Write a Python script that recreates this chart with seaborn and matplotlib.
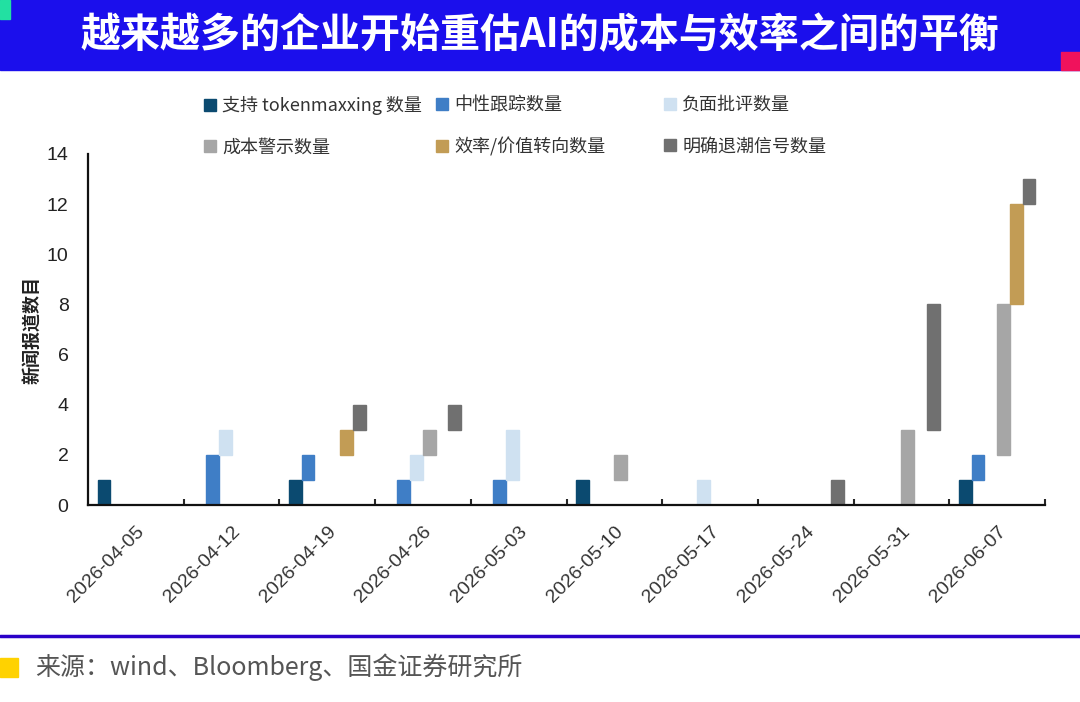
import numpy as np
import pandas as pd
import seaborn as sns
import matplotlib.pyplot as plt
from matplotlib.patches import Patch, Rectangle
from matplotlib.lines import Line2D

# 数据
dates = ['2026-04-05', '2026-04-12', '2026-04-19', '2026-04-26', '2026-05-03',
         '2026-05-10', '2026-05-17', '2026-05-24', '2026-05-31', '2026-06-07']
series = ['支持 tokenmaxxing 数量', '中性跟踪数量', '负面批评数量',
          '成本警示数量', '效率/价值转向数量', '明确退潮信号数量']
support = [1, 0, 1, 0, 0, 1, 0, 0, 0, 1]
neutral = [0, 2, 1, 1, 1, 0, 0, 0, 0, 1]
negative = [0, 1, 0, 1, 2, 0, 1, 0, 0, 0]
cost = [0, 0, 0, 1, 0, 1, 0, 0, 3, 6]
efficiency = [0, 0, 1, 0, 0, 0, 0, 0, 0, 4]
retreat = [0, 0, 1, 1, 0, 0, 0, 1, 5, 1]
colors = ['#0b4a70', '#3f7ec6', '#cfe1f1', '#a6a6a6', '#c29c55', '#707070']

values = np.array([support, neutral, negative, cost, efficiency, retreat])
bottoms = np.vstack([np.zeros(len(dates)), np.cumsum(values, axis=0)[:-1]])

rows = []
for name, vals in zip(series, values):
    for d, v in zip(dates, vals):
        rows.append({'date': d, 'series': name, 'count': v})
df = pd.DataFrame(rows)

sns.set_style('white')
plt.rcParams['font.family'] = ['Noto Sans CJK SC', 'DejaVu Sans']

fig = plt.figure(figsize=(10.8, 7.02), dpi=100)
W, H = 1080, 702

# 标题栏
fig.patches.append(Rectangle((0, 1 - 70 / H), 1, 70 / H, transform=fig.transFigure,
                             color='#1b0fec', zorder=0))
fig.patches.append(Rectangle((0, 1 - 19 / H), 10 / W, 19 / H, transform=fig.transFigure,
                             color='#22e0a2', zorder=1))
fig.patches.append(Rectangle((1061 / W, 1 - 70 / H), 19 / W, 18 / H, transform=fig.transFigure,
                             color='#f0125c', zorder=1))
fig.text(0.5, 1 - 36 / H, '越来越多的企业开始重估AI的成本与效率之间的平衡',
         color='white', fontsize=28.8, fontweight='bold', ha='center', va='center')

ax = fig.add_axes([88 / W, 1 - 505 / H, (1045 - 88) / W, (505 - 154) / H])

sns.barplot(data=df, x='date', y='count', hue='series', hue_order=series,
            order=dates, palette=colors, saturation=1, width=0.8,
            errorbar=None, legend=False, ax=ax)

# 浮动柱：每个序列从前面序列的累计值开始
for i, cont in enumerate(ax.containers):
    for j, p in enumerate(cont.patches):
        p.set_y(bottoms[i][j])
        if values[i][j] == 0:
            p.set_visible(False)
        else:
            p.set_edgecolor(colors[i])
            p.set_linewidth(1)

ax.set_ylim(0, 14)
ax.set_xlim(-0.5, len(dates) - 0.5)
ax.set_yticks(range(0, 15, 2))
ax.set_xticks(np.arange(len(dates)) - 0.5 + 1, minor=True)
ax.set_xlabel('')
ax.set_ylabel('新闻报道数目', fontsize=13, fontweight='bold', color='#222', labelpad=3)
for s in ['top', 'right']:
    ax.spines[s].set_visible(False)
for s in ['left', 'bottom']:
    ax.spines[s].set_linewidth(1.6)
    ax.spines[s].set_color('#111')
ax.tick_params(axis='y', which='major', direction='in', length=3, width=1.5,
               labelsize=14, labelcolor='#222', pad=14)
ax.tick_params(axis='x', which='major', length=0, labelsize=14, labelcolor='#333', pad=13)
ax.tick_params(axis='x', which='minor', direction='in', length=4, width=1.5, bottom=True)
for lab in ax.get_yticklabels():
    lab.set_fontfamily('Liberation Sans')
ax.set_xticks(range(len(dates)))
ax.set_xticklabels(dates, rotation=45, ha='right', rotation_mode='anchor',
                   family='Liberation Sans')

# 图例：三列
handles = [Patch(facecolor=c, edgecolor=c) for c in colors]
col_x = [204, 436, 664]
for k in range(3):
    idx = [k, k + 3]
    fig.legend([handles[i] for i in idx], [series[i] for i in idx],
               loc='upper left', bbox_to_anchor=(col_x[k] / W, 1 - 96 / H),
               frameon=False, borderpad=0, borderaxespad=0,
               handlelength=0.65, handleheight=0.65, handletextpad=0.35,
               labelspacing=1.3, fontsize=13, labelcolor='#333')

# 底部来源
fig.lines.append(Line2D([0, 1], [1 - 636 / H, 1 - 636 / H], transform=fig.transFigure,
                        color='#2a00c8', linewidth=2.5))
fig.patches.append(Rectangle((0, 1 - 677 / H), 18 / W, 19 / H, transform=fig.transFigure,
                             color='#ffd200'))
fig.text(35 / W, 1 - 667 / H, '来源：wind、Bloomberg、国金证券研究所',
         fontsize=18, color='#555', ha='left', va='center')

fig.savefig('out.png', dpi=100)
